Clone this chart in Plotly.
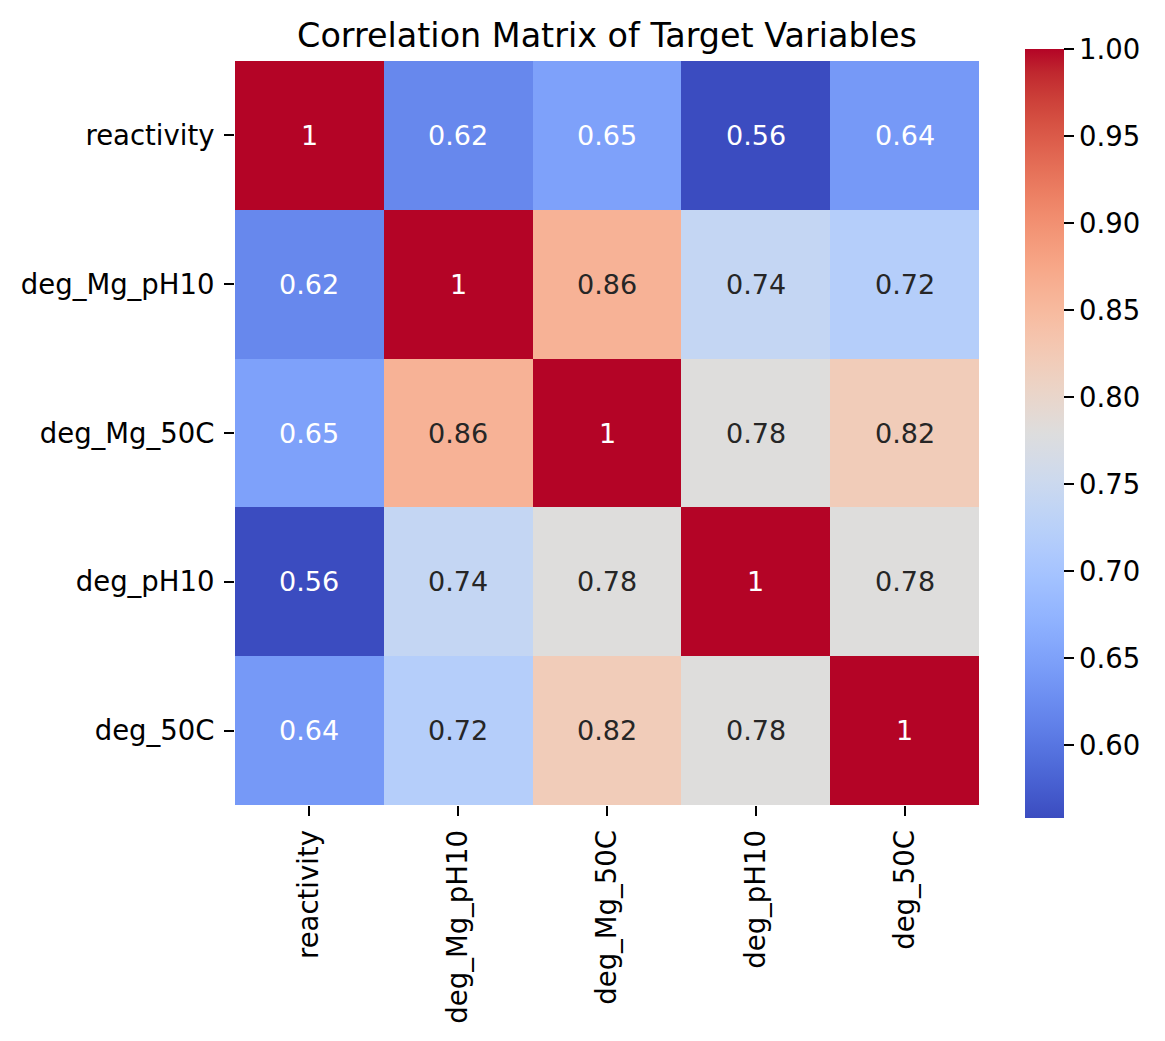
import plotly.graph_objects as go

# target variables (same order on both axes)
variables = ["reactivity", "deg_Mg_pH10", "deg_Mg_50C", "deg_pH10", "deg_50C"]

# correlation rows
reactivity = [1.0, 0.62, 0.65, 0.558, 0.64]
deg_Mg_pH10 = [0.62, 1.0, 0.86, 0.74, 0.72]
deg_Mg_50C = [0.65, 0.86, 1.0, 0.78, 0.82]
deg_pH10 = [0.558, 0.74, 0.78, 1.0, 0.78]
deg_50C = [0.64, 0.72, 0.82, 0.78, 1.0]

corr = [reactivity, deg_Mg_pH10, deg_Mg_50C, deg_pH10, deg_50C]

colorbar_ticks = [0.60, 0.65, 0.70, 0.75, 0.80, 0.85, 0.90, 0.95, 1.00]

# matplotlib "coolwarm" (Moreland diverging map)
coolwarm_rgb = [
    (59, 76, 192), (68, 90, 204), (77, 104, 215), (87, 117, 225),
    (98, 130, 234), (108, 142, 241), (119, 154, 247), (130, 165, 251),
    (141, 176, 254), (152, 185, 255), (163, 194, 255), (174, 201, 253),
    (184, 208, 249), (194, 213, 244), (204, 217, 238), (213, 219, 230),
    (221, 221, 221), (229, 216, 209), (236, 211, 197), (241, 204, 185),
    (245, 196, 173), (247, 187, 160), (247, 177, 148), (247, 166, 135),
    (244, 154, 123), (241, 141, 111), (236, 127, 99), (229, 112, 88),
    (222, 96, 77), (213, 80, 66), (203, 62, 56), (192, 40, 47),
    (180, 4, 38),
]
n = len(coolwarm_rgb) - 1
colorscale = [[i / n, "rgb(%d,%d,%d)" % c] for i, c in enumerate(coolwarm_rgb)]

zmin = min(min(r) for r in corr)
zmax = max(max(r) for r in corr)


def cmap(v):
    t = (v - zmin) / (zmax - zmin) * n
    i = min(int(t), n - 1)
    f = t - i
    a, b = coolwarm_rgb[i], coolwarm_rgb[i + 1]
    return [a[k] + (b[k] - a[k]) * f for k in range(3)]


def luminance(rgb):
    lin = []
    for c in rgb:
        c = c / 255
        lin.append(c / 12.92 if c <= 0.03928 else ((c + 0.055) / 1.055) ** 2.4)
    return 0.2126 * lin[0] + 0.7152 * lin[1] + 0.0722 * lin[2]


FONT = "DejaVu Sans"
TICK_SIZE = 27.5

fig = go.Figure(go.Heatmap(
    z=corr,
    x=variables,
    y=variables,
    zmin=zmin,
    zmax=zmax,
    colorscale=colorscale,
    xgap=0,
    ygap=0,
    colorbar=dict(
        thickness=39,
        thicknessmode="pixels",
        len=769 / 744,
        lenmode="fraction",
        x=(1025 - 235) / 744,
        xanchor="left",
        xpad=0,
        y=0.499,
        yanchor="middle",
        ypad=0,
        outlinewidth=0,
        tickvals=colorbar_ticks,
        tickformat=".2f",
        ticks="outside",
        ticklen=10,
        tickwidth=2,
        tickcolor="black",
        tickfont=dict(family=FONT, size=TICK_SIZE, color="black"),
    ),
    hoverongaps=False,
))

# cell labels, white on dark cells like seaborn does
for i, row in enumerate(corr):
    for j, v in enumerate(row):
        color = "white" if luminance(cmap(v)) <= 0.408 else "#262626"
        fig.add_annotation(
            x=variables[j], y=variables[i],
            text=format(v, ".2g"),
            showarrow=False,
            font=dict(family=FONT, size=27, color=color),
        )

fig.update_xaxes(
    showgrid=False, zeroline=False, showline=False,
    ticks="outside", ticklen=10, tickwidth=2, tickcolor="black",
    tickangle=-90, ticklabelstandoff=3,
    tickfont=dict(family=FONT, size=TICK_SIZE, color="black"),
)
fig.update_yaxes(
    showgrid=False, zeroline=False, showline=False,
    autorange="reversed",
    ticks="outside", ticklen=10, tickwidth=2, tickcolor="black",
    ticklabelstandoff=4,
    tickfont=dict(family=FONT, size=TICK_SIZE, color="black"),
)

# page body adds 8px, so margins are shifted up/left by 8
fig.update_layout(
    width=1165,
    height=1041,
    margin=dict(l=227, r=194, t=53, b=244),
    plot_bgcolor="white",
    paper_bgcolor="white",
    title=dict(
        text="Correlation Matrix of Target Variables",
        x=0.5,
        xref="paper",
        xanchor="center",
        y=1 - 27 / 1041,
        yref="container",
        yanchor="middle",
        font=dict(family=FONT, size=33.4, color="black"),
    ),
)

fig.write_html("out.html")
